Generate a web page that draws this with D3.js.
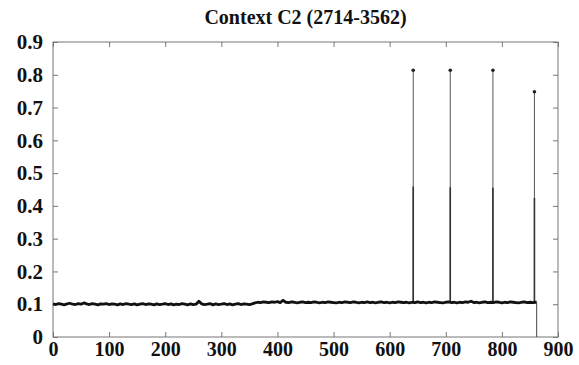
<!DOCTYPE html>
<html>
<head>
<meta charset="utf-8">
<script src="https://cdn.jsdelivr.net/npm/d3@7"></script>
<style>
  body { margin: 0; background: #fff; }
  text { font-family: "Liberation Serif", "Times New Roman", serif; font-weight: bold; fill: #111; }
</style>
</head>
<body>
<svg id="chart"></svg>
<script>
const title = 'Context C2 (2714-3562)'
const xTicks = [0, 100, 200, 300, 400, 500, 600, 700, 800, 900]
const yTicks = [0, 0.1, 0.2, 0.3, 0.4, 0.5, 0.6, 0.7, 0.8, 0.9]

// baseline sampled every 5 positions, 0..860
const baseStep = 5
const baseVals = [
  0.101,0.099,0.102,0.100,0.098,0.101,0.103,0.100,0.099,0.102,
  0.100,0.104,0.101,0.099,0.102,0.100,0.098,0.101,0.100,0.102,
  0.099,0.101,0.100,0.098,0.101,0.099,0.102,0.100,0.099,0.101,
  0.098,0.100,0.102,0.099,0.101,0.100,0.098,0.101,0.099,0.100,
  0.102,0.099,0.101,0.098,0.100,0.099,0.102,0.100,0.098,0.101,
  0.099,0.100,0.109,0.101,0.099,0.100,0.102,0.098,0.101,0.099,
  0.100,0.102,0.099,0.101,0.098,0.100,0.102,0.099,0.101,0.100,
  0.099,0.101,
  0.104,0.106,0.105,0.107,0.106,0.105,0.107,0.106,0.108,0.105,
  0.112,0.106,0.105,0.107,0.106,0.104,0.106,0.107,0.105,0.106,
  0.105,0.107,0.106,0.104,0.106,0.105,0.107,0.106,0.105,0.104,
  0.106,0.105,0.107,0.106,0.105,0.107,0.106,0.104,0.106,0.105,
  0.107,0.105,0.106,0.104,0.106,0.107,0.105,0.106,0.104,0.106,
  0.105,0.107,0.106,0.105,0.106,0.104,0.106,0.105,0.107,0.105,
  0.106,0.104,0.106,0.105,0.107,0.106,0.105,0.104,0.106,0.107,
  0.105,0.106,0.104,0.106,0.105,0.107,0.106,0.109,0.105,0.106,
  0.104,0.106,0.107,0.105,0.106,0.105,0.107,0.106,0.104,0.106,
  0.105,0.107,0.106,0.105,0.104,0.106,0.107,0.105,0.106,0.105,
  0.106
]
const endX = 862
const endVal = 0

const spikeX = [642, 708, 784, 858]
const spikeTop = [0.814, 0.814, 0.814, 0.748]
const spikeMid = [0.459, 0.457, 0.455, 0.424]
const spikeBase = [0.106, 0.106, 0.105, 0.106]

const width = 579, height = 365
const margin = {top: 42, right: 21, bottom: 28, left: 53}

const svg = d3.select('#chart')
  .attr('width', width)
  .attr('height', height)

const x = d3.scaleLinear().domain([0, 900]).range([margin.left, width - margin.right])
const y = d3.scaleLinear().domain([0, 0.9]).range([height - margin.bottom, margin.top])

let points = baseVals.map((v, i) => [i * baseStep, v])
points.push([endX, baseVals[baseVals.length - 1]])
points.push([endX, endVal])

// frame
svg.append('rect')
  .attr('x', x(0)).attr('y', y(0.9))
  .attr('width', x(900) - x(0)).attr('height', y(0) - y(0.9))
  .attr('fill', 'none').attr('stroke', '#777').attr('stroke-width', 1)

const tickLen = 5
const axisStyle = g => {
  g.select('.domain').remove()
  g.selectAll('.tick line').attr('stroke', '#777')
}

svg.append('g')
  .attr('transform', `translate(0,${y(0)})`)
  .call(d3.axisBottom(x).tickValues(xTicks).tickSize(-tickLen).tickPadding(5).tickFormat(d3.format('d')))
  .call(axisStyle)
  .selectAll('text').attr('font-size', 20).attr('fill', '#111')

svg.append('g')
  .attr('transform', `translate(0,${y(0.9)})`)
  .call(d3.axisTop(x).tickValues(xTicks).tickSize(-tickLen).tickFormat(''))
  .call(axisStyle)

svg.append('g')
  .attr('transform', `translate(${x(0)},0)`)
  .call(d3.axisLeft(y).tickValues(yTicks).tickSize(-tickLen).tickPadding(10).tickFormat(d => d === 0 ? '0' : d3.format('.1f')(d)))
  .call(axisStyle)
  .selectAll('text').attr('font-size', 21).attr('fill', '#111')

svg.append('g')
  .attr('transform', `translate(${x(900)},0)`)
  .call(d3.axisRight(y).tickValues(yTicks).tickSize(-tickLen).tickFormat(''))
  .call(axisStyle)

// spikes
spikeX.forEach((sx, i) => {
  svg.append('line')
    .attr('x1', x(sx)).attr('x2', x(sx))
    .attr('y1', y(spikeBase[i])).attr('y2', y(spikeTop[i]))
    .attr('stroke', '#555').attr('stroke-width', 1)
  svg.append('line')
    .attr('x1', x(sx)).attr('x2', x(sx))
    .attr('y1', y(spikeBase[i])).attr('y2', y(spikeMid[i]))
    .attr('stroke', '#333').attr('stroke-width', 1.6)
  svg.append('circle')
    .attr('cx', x(sx)).attr('cy', y(spikeTop[i]))
    .attr('r', 1.8).attr('fill', '#222')
})

const line = d3.line().x(d => x(d[0])).y(d => y(d[1]))

svg.append('path')
  .datum(points.slice(0, points.length - 1))
  .attr('d', line)
  .attr('fill', 'none')
  .attr('stroke', '#111')
  .attr('stroke-width', 2.8)
  .attr('stroke-linejoin', 'round')

// drop to zero at the end
svg.append('path')
  .datum(points.slice(points.length - 2))
  .attr('d', line)
  .attr('fill', 'none')
  .attr('stroke', '#444')
  .attr('stroke-width', 1)

svg.append('text')
  .attr('x', (x(0) + x(900)) / 2)
  .attr('y', 24)
  .attr('text-anchor', 'middle')
  .attr('font-size', 20)
  .text(title)
</script>
</body>
</html>
